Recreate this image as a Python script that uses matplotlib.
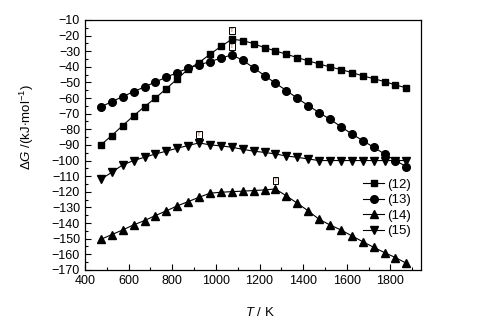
import matplotlib
matplotlib.use("Agg")
import matplotlib.pyplot as plt
from matplotlib.ticker import MultipleLocator
import numpy as np

plt.rcParams['font.family'] = ['Liberation Sans', 'DejaVu Sans']
plt.rcParams['mathtext.fontset'] = 'custom'
plt.rcParams['mathtext.rm'] = 'Liberation Sans'
plt.rcParams['mathtext.it'] = 'Liberation Sans:italic'

# temperatures (K)
temps = [473, 523, 573, 623, 673, 723, 773, 823, 873, 923, 973, 1023, 1073,
         1123, 1173, 1223, 1273, 1323, 1373, 1423, 1473, 1523, 1573, 1623,
         1673, 1723, 1773, 1823, 1873]

# Gibbs free energy of each reaction (kJ/mol)
dg_12 = [-90, -84, -77.6, -71.4, -65.5, -60, -54, -47.8, -41.5, -37.3, -32,
         -27, -22.4, -23.2, -25.2, -27.8, -29.8, -32, -34.1, -36.2, -38.2,
         -40.1, -41.8, -43.7, -45.8, -47.6, -49.5, -51.6, -53.5]
dg_13 = [-65.7, -62.3, -59.1, -55.9, -52.9, -49.7, -46.7, -43.7, -40.9, -38.8,
         -36.7, -34.5, -32.4, -35.8, -40.7, -45.6, -50.5, -55.2, -60.1, -64.8,
         -69.3, -73.6, -78.3, -83, -87.2, -91.5, -95.8, -100, -103.9]
dg_14 = [-150.4, -147.4, -144.4, -141.2, -138.4, -135.2, -132.2, -129, -126.3,
         -123.5, -120.9, -120.3, -119.9, -119.6, -119.2, -118.8, -118.2, -122.6,
         -127.3, -132.2, -137.6, -141.2, -144.4, -148.2, -151.9, -155.5, -158.9,
         -162.1, -165.7]
dg_15 = [-112, -107.5, -102.8, -100, -97.9, -95.8, -94, -92.1, -90.4, -88.7,
         -90, -90.6, -91.5, -92.8, -94, -94.8, -95.8, -97.1, -97.9, -99,
         -100, -100, -100, -100, -100, -100, -100, -100, -100]

labels = ['(12)', '(13)', '(14)', '(15)']
markers = ['s', 'o', '^', 'v']
sizes = [5, 5.5, 6, 6]

fig = plt.figure(figsize=(4.8, 3.26), dpi=100)
ax = fig.add_axes([0.177, 0.172, 0.700, 0.767])

for dg, lab, mk, ms in zip([dg_12, dg_13, dg_14, dg_15], labels, markers, sizes):
    ax.plot(temps, dg, color='black', lw=0.8, marker=mk, ms=ms,
            markerfacecolor='black', markeredgecolor='black', label=lab)
    # small "T" tag over the maximum
    i = int(np.argmax(dg))
    ax.annotate('T', (temps[i], dg[i]), xytext=(0, 6), textcoords='offset points',
                ha='center', va='center', fontsize=4.5, color='#a0522d',
                bbox=dict(boxstyle='square,pad=0.15', fc='white', ec='black', lw=0.7))

ax.set_xlim(400, 1940)
ax.set_ylim(-170, -10)
ax.xaxis.set_major_locator(MultipleLocator(200))
ax.xaxis.set_minor_locator(MultipleLocator(100))
ax.yaxis.set_major_locator(MultipleLocator(10))
ax.yaxis.set_minor_locator(MultipleLocator(5))
ax.tick_params(which='both', direction='in', labelsize=9, top=False, right=False)
ax.tick_params(which='major', length=4, width=0.8)
ax.tick_params(which='minor', length=2, width=0.8)
for sp in ax.spines.values():
    sp.set_linewidth(0.9)

ax.set_xlabel(r'$\it{T}$ / K', fontsize=9.5)
ax.set_ylabel(r'$\Delta\it{G}$ /(kJ$\cdot$mol$^{-1}$)', fontsize=9.5)
ax.yaxis.set_label_coords(-0.145, 0.57)
ax.xaxis.set_label_coords(0.52, -0.146)

ax.legend(loc='upper left', bbox_to_anchor=(0.828, 0.366), frameon=False,
          fontsize=9.5, handlelength=1.6, handletextpad=0.25, labelspacing=0.25,
          borderpad=0, borderaxespad=0)

fig.savefig('out.png', dpi=100)
